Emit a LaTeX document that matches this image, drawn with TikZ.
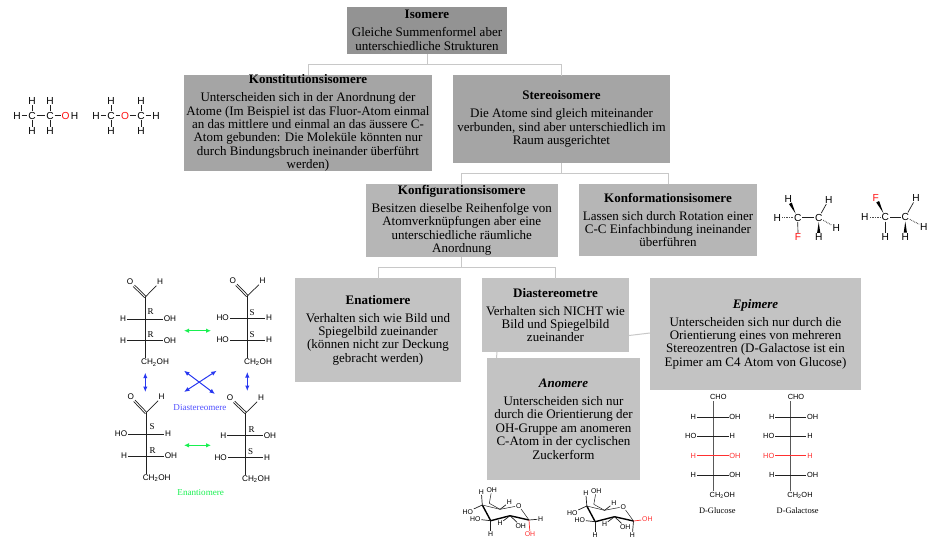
\documentclass[tikz,border=0pt]{standalone}
\usepackage{fontspec}
\setmainfont{Liberation Serif}
\newfontfamily\chemfont{Liberation Sans}
\usetikzlibrary{calc,arrows.meta}
\definecolor{boxz}{HTML}{939393}
\definecolor{boxa}{HTML}{A5A5A5}
\definecolor{boxb}{HTML}{B6B6B6}
\definecolor{boxc}{HTML}{C3C3C3}
\definecolor{linkc}{HTML}{C8C8C8}
\definecolor{chemred}{HTML}{FF1010}
\definecolor{softred}{HTML}{FF3030}
\definecolor{bluearr}{HTML}{2838F0}
\definecolor{bluetxt}{HTML}{5050FF}
\definecolor{greenc}{HTML}{18F050}
\definecolor{bondc}{HTML}{202020}
\tikzset{
  infobox/.style={inner sep=0pt,align=center,text=black,font=\fontsize{13}{13.4}\selectfont},
  link/.style={draw=linkc,line width=1pt},
  atom/.style={inner sep=0.7pt,font=\chemfont\fontsize{8.2}{9}\selectfont,text=black},
  batom/.style={inner sep=0.7pt,font=\chemfont\fontsize{10.2}{11}\selectfont,text=black},
  satom/.style={atom,font=\chemfont\fontsize{6.9}{8}\selectfont},
  fatom/.style={atom,font=\chemfont\fontsize{7.4}{8}\selectfont},
  bond/.style={draw=bondc,line width=0.7pt},
  hash/.style={draw=black!70,line width=1pt,dash pattern=on 0.7pt off 1pt},
  cip/.style={inner sep=0pt,font=\fontsize{9}{9}\selectfont,text=black},
  captxt/.style={inner sep=0pt,font=\fontsize{8.4}{9}\selectfont},
  largecap/.style={inner sep=0pt,font=\fontsize{9.1}{10}\selectfont},
  green arrow/.style={draw=greenc,line width=1pt,{Latex[length=5pt,width=4.5pt]}-{Latex[length=5pt,width=4.5pt]}},
  blue arrow/.style={draw=bluearr,line width=1pt,{Latex[length=5.5pt,width=4.5pt]}-{Latex[length=5.5pt,width=4.5pt]}}
}
% name, x1, y1, x2, y2, colour, text
\newcommand\infonode[7]{%
  \pgfmathsetlengthmacro\bw{(#4-#2)*1pt}\pgfmathsetlengthmacro\bh{(#5-#3)*1pt}%
  \node[infobox,fill=#6,minimum width=\bw,minimum height=\bh] (#1) at ({(#2+#4)/2},{(#3+#5)/2}) {#7};}
\newcommand\ttl[1]{\textbf{#1}\\[4.6pt]}
\newcommand\wedgebond[2]{%
  \fill[black] ($(#1)!4.5pt!(#2)$) -- ($($(#2)!4.5pt!(#1)$)!1.6pt!90:(#2)$) -- ($($(#2)!4.5pt!(#1)$)!1.6pt!-90:(#2)$) -- cycle;}
% name, xc, y, xl, left, xr, right, style
\newcommand\crossrow[8]{%
  \node[#8] (#1l) at (#4,#3) {#5};
  \node[#8] (#1r) at (#6,#3) {#7};
  \draw[bond,#8line] (#1l) -- (#1r);}
\tikzset{atomline/.style={},fatomline/.style={},rfatomline/.style={draw=softred},
  rfatom/.style={fatom,text=softred}}
% name, Ox, Oy, Hx, Hy, Cx, Cy
\newcommand\aldehyde[7]{%
  \node[atom] (#1O) at (#2,#3) {O};
  \node[atom] (#1H) at (#4,#5) {H};
  \coordinate (#1C) at (#6,#7);
  \draw[bond] (#1C) -- (#1H);
  \draw[bond,transform canvas={shift={(-0.7pt,-0.7pt)}}] (#1C) -- (#1O);
  \draw[bond,transform canvas={shift={(0.7pt,0.7pt)}}] (#1C) -- (#1O);}
% ring atoms drawn relative to the left chair
\newcommand\chair[1]{%
  \coordinate (#1A) at (482.3,505);
  \coordinate (#1B) at (490.7,520.7);
  \coordinate (#1C) at (510,515.7);
  \coordinate (#1D) at (529,520);
  \coordinate (#1E) at (500,509.3);
  \coordinate (#1M) at (489.3,503.3);
  \node[satom] (#1O) at (518.7,505.7) {O};
  \node[satom] (#1a) at (481.3,491.7) {H};
  \node[satom] (#1b) at (491.7,490) {OH};
  \node[satom] (#1c) at (467.7,511.7) {HO};
  \node[satom] (#1d) at (475.3,519) {HO};
  \node[satom] (#1e) at (490.7,534.3) {H};
  \node[satom] (#1f) at (500,523.3) {H};
  \node[satom] (#1g) at (520.7,525.7) {OH};
  \node[satom] (#1h) at (509.3,502.3) {H};
  \draw[bond,line width=1.4pt,line join=round,black] (#1A) -- (#1B) -- (#1C) -- (#1D);
  \draw[bond,line width=0.5pt] (#1A) -- (#1E) -- (#1O) -- (#1D);
  \draw[bond] (#1A) -- (#1a);
  \draw[bond] (#1A) -- (#1c);
  \draw[bond] (#1B) -- (#1d);
  \draw[bond] (#1B) -- (#1e);
  \draw[bond] (#1C) -- (#1f);
  \draw[bond] (#1C) -- (#1g);
  \draw[bond] (#1E) -- (#1h);
  \draw[bond,line width=0.5pt] (#1E) -- (#1M) -- (#1b);}
\begin{document}
\begin{tikzpicture}[x=1pt,y=-1pt]
\useasboundingbox (0,0) rectangle (933,542);
% ---- boxes
\infonode{iso}{347}{7}{507}{54}{boxz}{\ttl{Isomere}Gleiche Summenformel aber\\unterschiedliche Strukturen}
\infonode{kons}{184}{75}{432}{171}{boxa}{\ttl{Konstitutionsisomere}Unterscheiden sich in der Anordnung der\\Atome (Im Beispiel ist das Fluor-Atom einmal\\an das mittlere und einmal an das äussere C-\\Atom gebunden: Die Moleküle könnten nur\\durch Bindungsbruch ineinander überführt\\werden)}
\infonode{ster}{453}{75}{670}{163}{boxa}{\ttl{Stereoisomere}Die Atome sind gleich miteinander\\verbunden, sind aber unterschiedlich im\\Raum ausgerichtet}
\infonode{konf}{366}{184}{557.5}{257}{boxb}{\ttl{Konfigurationsisomere}Besitzen dieselbe Reihenfolge von\\Atomverknüpfungen aber eine\\unterschiedliche räumliche\\Anordnung}
\infonode{konm}{579}{184}{757}{256}{boxb}{\ttl{Konformationsisomere}Lassen sich durch Rotation einer\\C-C Einfachbindung ineinander\\überführen}
\infonode{enat}{295}{278}{461}{382}{boxc}{\ttl{Enatiomere}Verhalten sich wie Bild und\\Spiegelbild zueinander\\(können nicht zur Deckung\\gebracht werden)}
\infonode{dia}{482}{278}{629}{352}{boxc}{\ttl{Diastereometre}Verhalten sich NICHT wie\\Bild und Spiegelbild\\zueinander}
\infonode{epi}{650}{278}{861}{390}{boxc}{\ttl{\textit{Epimere}}Unterscheiden sich nur durch die\\Orientierung eines von mehreren\\Stereozentren (D-Galactose ist ein\\Epimer am C4 Atom von Glucose)}
\infonode{ano}{487}{358}{640}{480}{boxc}{\ttl{\textit{Anomere}}Unterscheiden sich nur\\durch die Orientierung der\\OH-Gruppe am anomeren\\C-Atom in der cyclischen\\Zuckerform}
% ---- connectors
\draw[link] (iso.south) -- ++(0,10) -| ([yshift=-1pt]kons.north);
\draw[link] (iso.south) -- ++(0,10) -| ([yshift=-1pt]ster.north);
\draw[link] (ster.south) -- ++(0,10.5) -| (konf.north);
\draw[link] (ster.south) -- ++(0,10.5) -| (konm.north);
\draw[link] (konf.south) -- ++(0,10) -| ([yshift=-1pt]enat.north);
\draw[link] (konf.south) -- ++(0,10) -| ([yshift=-1pt]dia.north);
\coordinate (diaE) at (629,335.5);
\coordinate (epiW) at (650,333);
\draw[link] (diaE) -- (epiW);
\coordinate (diaS) at (497,352);
\coordinate (anoN) at (496.5,358);
\draw[link] (diaS) -- (anoN);
% ---- ethanol
\node[batom] (e1) at (17,115.7) {H};
\node[batom] (e2) at (32,115.7) {C};
\node[batom] (e3) at (50,115.7) {C};
\node[batom,text=chemred] (e4) at (65.7,115.7) {O};
\node[batom] (e5) at (74.5,115.7) {H};
\node[batom] (e6) at (32,100.7) {H};
\node[batom] (e7) at (32,131) {H};
\node[batom] (e8) at (50,100.7) {H};
\node[batom] (e9) at (50,131) {H};
\draw[bond] (e1) -- (e2) -- (e3) -- (e4);
\draw[bond] (e6) -- (e2) -- (e7);
\draw[bond] (e8) -- (e3) -- (e9);
% ---- dimethyl ether
\node[batom] (m1) at (96,115.7) {H};
\node[batom] (m2) at (111,115.7) {C};
\node[batom,text=chemred] (m3) at (125,115.7) {O};
\node[batom] (m4) at (141,115.7) {C};
\node[batom] (m5) at (156,115.7) {H};
\node[batom] (m6) at (111,101) {H};
\node[batom] (m7) at (111,131) {H};
\node[batom] (m8) at (141,101) {H};
\node[batom] (m9) at (141,131) {H};
\draw[bond] (m1) -- (m2) -- (m3) -- (m4) -- (m5);
\draw[bond] (m6) -- (m2) -- (m7);
\draw[bond] (m8) -- (m4) -- (m9);
% ---- conformers, left
\node[batom] (p1) at (797.7,217.7) {C};
\node[batom] (p2) at (818.7,217.7) {C};
\node[batom] (p3) at (788.3,199.3) {H};
\node[batom] (p4) at (777.3,217.7) {H};
\node[batom,text=chemred] (p5) at (798,237.3) {F};
\node[batom] (p6) at (828.7,199.7) {H};
\node[batom] (p7) at (836.3,227.7) {H};
\node[batom] (p8) at (818.7,237.3) {H};
\draw[bond] (p1) -- (p2);
\draw[bond] (p1) -- (p5);
\draw[bond] (p2) -- (p6);
\draw[hash] (p1) -- (p4);
\draw[hash] (p2) -- (p7);
\wedgebond{p1}{p3}
\wedgebond{p2}{p8}
% ---- conformers, right
\node[batom] (q1) at (885.3,217) {C};
\node[batom] (q2) at (905.3,217) {C};
\node[batom,text=chemred] (q3) at (875.7,197.7) {F};
\node[batom] (q4) at (864.7,217) {H};
\node[batom] (q5) at (885.3,237) {H};
\node[batom] (q6) at (916,198) {H};
\node[batom] (q7) at (923.7,226.7) {H};
\node[batom] (q8) at (905.3,237) {H};
\draw[bond] (q1) -- (q2);
\draw[bond] (q1) -- (q5);
\draw[bond] (q2) -- (q6);
\draw[hash] (q1) -- (q4);
\draw[hash] (q2) -- (q7);
\wedgebond{q1}{q3}
\wedgebond{q2}{q8}
% ---- tetroses
\aldehyde{ta}{130}{282}{160}{282}{145.3}{297}
\crossrow{ta1}{145.3}{319}{123}{H}{170}{OH}{atom}
\crossrow{ta2}{145.3}{340.7}{123}{H}{170}{OH}{atom}
\node[atom] (tam) at (155,362.7) {CH\textsubscript{2}OH};
\draw[bond] (taC) -- (taC|-tam.north);
\node[cip] (tax) at (150.7,312) {R};
\node[cip] (tay) at (150.7,335) {R};

\aldehyde{tb}{232.7}{281}{262.7}{281}{247.3}{296}
\crossrow{tb1}{247.3}{318}{222.7}{HO}{269}{H}{atom}
\crossrow{tb2}{247.3}{340}{222.7}{HO}{269}{H}{atom}
\node[atom] (tbm) at (258,362) {CH\textsubscript{2}OH};
\draw[bond] (tbC) -- (tbC|-tbm.north);
\node[cip] (tbx) at (252,313) {S};
\node[cip] (tby) at (252,335) {S};

\aldehyde{tc}{130.7}{397}{161.7}{397}{146}{413}
\crossrow{tc1}{146}{434}{121}{HO}{168}{H}{atom}
\crossrow{tc2}{146}{456}{124}{H}{171}{OH}{atom}
\node[atom] (tcm) at (156.7,478) {CH\textsubscript{2}OH};
\draw[bond] (tcC) -- (tcC|-tcm.north);
\node[cip] (tcx) at (152,427) {S};
\node[cip] (tcy) at (152.7,451) {R};

\aldehyde{td}{230}{398}{261}{398}{245.7}{413}
\crossrow{td1}{245.7}{435.3}{223.3}{H}{270}{OH}{atom}
\crossrow{td2}{245.7}{457.3}{220.7}{HO}{267}{H}{atom}
\node[atom] (tdm) at (256,479) {CH\textsubscript{2}OH};
\draw[bond] (tdC) -- (tdC|-tdm.north);
\node[cip] (tdx) at (251.7,430) {R};
\node[cip] (tdy) at (250.7,452) {S};
% ---- arrows
\coordinate (g1a) at (184,330.7); \coordinate (g1b) at (211,330.7);
\draw[green arrow] (g1a) -- (g1b);
\coordinate (g2a) at (184,445.3); \coordinate (g2b) at (211,445.3);
\draw[green arrow] (g2a) -- (g2b);
\coordinate (b1a) at (145.3,372.7); \coordinate (b1b) at (145.3,392);
\draw[blue arrow] (b1a) -- (b1b);
\coordinate (b2a) at (247.3,372); \coordinate (b2b) at (247.3,391);
\draw[blue arrow] (b2a) -- (b2b);
\coordinate (b3a) at (184,370.7); \coordinate (b3b) at (215,394);
\draw[blue arrow] (b3a) -- (b3b);
\coordinate (b4a) at (216.7,370.7); \coordinate (b4b) at (184,392);
\draw[blue arrow] (b4a) -- (b4b);
\node[largecap,text=bluetxt] (capd) at (200,408) {Diastereomere};
\node[largecap,text=greenc] (cape) at (200.7,492.7) {Enantiomere};
% ---- chairs
\chair{ca}
\node[satom,text=softred] (car) at (530,534.3) {OH};
\node[satom] (cah) at (540.7,519) {H};
\draw[bond] (caD) -- (cah);
\draw[bond,draw=softred] (caD) -- (car);
\begin{scope}[shift={(104.5,1)}]
\chair{cb}
\node[satom,text=softred] (cbr) at (542.8,518.3) {OH};
\node[satom] (cbh) at (527.8,534) {H};
\end{scope}
\draw[bond] (cbD) -- (cbh);
\draw[bond,draw=softred] (cbD) -- (cbr);
% ---- glucose
\node[fatom] (gt) at (718.3,397.3) {CHO};
\node[fatom] (gb) at (722.3,495.3) {CH\textsubscript{2}OH};
\coordinate (g0) at (713,401);
\draw[bond,draw=black!65,line width=0.8pt] (g0) -- (g0|-gb.north);
\crossrow{g1}{713}{417}{693.3}{H}{735}{OH}{fatom}
\crossrow{g2}{713}{436.3}{690.7}{HO}{732.3}{H}{fatom}
\crossrow{g3}{713}{455.7}{693.3}{H}{735}{OH}{rfatom}
\crossrow{g4}{713}{475.3}{693.3}{H}{735}{OH}{fatom}
\node[captxt] (gn) at (717.3,511) {D-Glucose};
% ---- galactose
\node[fatom] (ht) at (796,397.3) {CHO};
\node[fatom] (hb) at (800,495.3) {CH\textsubscript{2}OH};
\coordinate (h0) at (790.7,401);
\draw[bond,draw=black!65,line width=0.8pt] (h0) -- (h0|-hb.north);
\crossrow{h1}{790.7}{417}{771.7}{H}{812.7}{OH}{fatom}
\crossrow{h2}{790.7}{436.3}{768.7}{HO}{810}{H}{fatom}
\crossrow{h3}{790.7}{455.7}{768.7}{HO}{810}{H}{rfatom}
\crossrow{h4}{790.7}{475.3}{771.7}{H}{812.7}{OH}{fatom}
\node[captxt] (hn) at (797.7,511) {D-Galactose};
\end{tikzpicture}
\end{document}
